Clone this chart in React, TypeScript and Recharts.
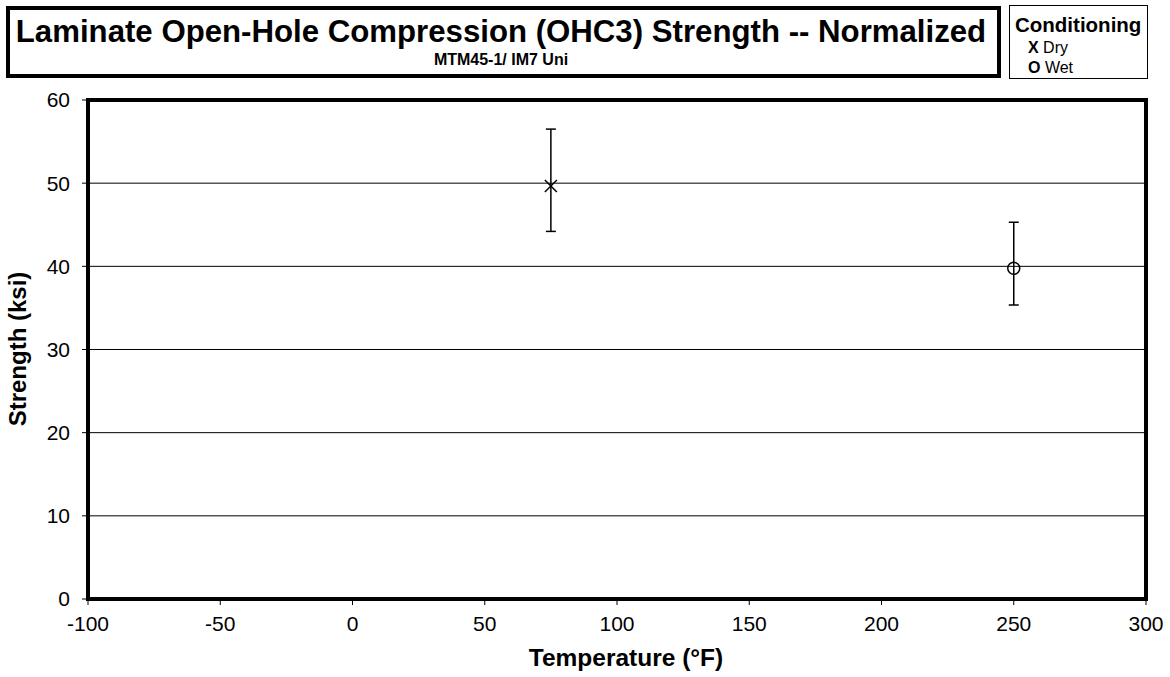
import React from 'react';
import { ScatterChart, Scatter, XAxis, YAxis, CartesianGrid, ErrorBar, ReferenceArea } from 'recharts';

const conditions = ['Dry', 'Wet'];
const temperatures = [75, 250];
const means = [49.66, 39.76];
const minima = [44.2, 35.35];
const maxima = [56.5, 45.3];

const xTicks = [-100, -50, 0, 50, 100, 150, 200, 250, 300];
const yTicks = [0, 10, 20, 30, 40, 50, 60];

const rows = conditions.map((c, i) => ({
  condition: c,
  temp: temperatures[i],
  strength: means[i],
  err: [means[i] - minima[i], maxima[i] - means[i]],
}));
const dryData = rows.filter((r) => r.condition === 'Dry');
const wetData = rows.filter((r) => r.condition === 'Wet');

const FONT = '"Liberation Sans", Arial, sans-serif';

const XShape = (props: any) => {
  const { cx, cy } = props;
  const s = 6;
  return (
    <g>
      <line x1={cx - s} y1={cy - s} x2={cx + s} y2={cy + s} stroke="#000" strokeWidth={1.5} />
      <line x1={cx - s} y1={cy + s} x2={cx + s} y2={cy - s} stroke="#000" strokeWidth={1.5} />
    </g>
  );
};

const OShape = (props: any) => {
  const { cx, cy } = props;
  return <circle cx={cx} cy={cy} r={6} fill="none" stroke="#000" strokeWidth={1.5} />;
};

export default function App() {
  return (
    <div style={{ position: 'absolute', left: 0, top: 0, width: 1170, height: 677, background: '#fff' }}>
      <ScatterChart width={1170} height={677} margin={{ top: 100, right: 24, left: 28, bottom: 18 }}>
        <CartesianGrid vertical={false} stroke="#000" strokeWidth={1} />
        <XAxis
          type="number"
          dataKey="temp"
          domain={[-100, 300]}
          ticks={xTicks}
          height={60}
          tickSize={6}
          tickMargin={11}
          tick={{ fill: '#000', fontSize: 21, fontFamily: FONT }}
          stroke="#000"
          interval={0}
          allowDataOverflow
        />
        <YAxis
          type="number"
          dataKey="strength"
          domain={[0, 60]}
          ticks={yTicks}
          width={60}
          tickSize={6}
          tickMargin={12}
          tick={{ fill: '#000', fontSize: 21, fontFamily: FONT }}
          stroke="#000"
          interval={0}
          allowDataOverflow
        />
        <ReferenceArea x1={-100} x2={300} y1={0} y2={60} fill="none" fillOpacity={0} stroke="#000" strokeWidth={4} ifOverflow="visible" />
        <Scatter data={dryData} dataKey="strength" shape={<XShape />} isAnimationActive={false}>
          <ErrorBar dataKey="err" direction="y" width={5} stroke="#000" strokeWidth={1.5} isAnimationActive={false} />
        </Scatter>
        <Scatter data={wetData} dataKey="strength" shape={<OShape />} isAnimationActive={false}>
          <ErrorBar dataKey="err" direction="y" width={5} stroke="#000" strokeWidth={1.5} isAnimationActive={false} />
        </Scatter>
      </ScatterChart>
      <svg width={1170} height={677} style={{ position: 'absolute', left: 0, top: 0, pointerEvents: 'none' }} fontFamily={FONT}>
        <rect x={8} y={8} width={991} height={68} fill="none" stroke="#000" strokeWidth={4} />
        <text x={501} y={42} textAnchor="middle" fontSize={31.2} fontWeight="bold" fill="#000">
          Laminate Open-Hole Compression (OHC3) Strength -- Normalized
        </text>
        <text x={501} y={65} textAnchor="middle" fontSize={16} fontWeight="bold" fill="#000">
          MTM45-1/ IM7 Uni
        </text>
        <rect x={1009.5} y={5.5} width={138} height={73} fill="none" stroke="#000" strokeWidth={1} />
        <text x={1015} y={32} fontSize={20.5} fontWeight="bold" fill="#000">Conditioning</text>
        <text x={1028} y={53} fontSize={16} fill="#000">
          <tspan fontWeight="bold">X</tspan> Dry
        </text>
        <text x={1028} y={73} fontSize={16} fill="#000">
          <tspan fontWeight="bold">O</tspan> Wet
        </text>
        <text x={626} y={666} textAnchor="middle" fontSize={24.5} fontWeight="bold" fill="#000">
          Temperature (°F)
        </text>
        <text transform="translate(26,349) rotate(-90)" textAnchor="middle" fontSize={24} fontWeight="bold" fill="#000">
          Strength (ksi)
        </text>
      </svg>
    </div>
  );
}
